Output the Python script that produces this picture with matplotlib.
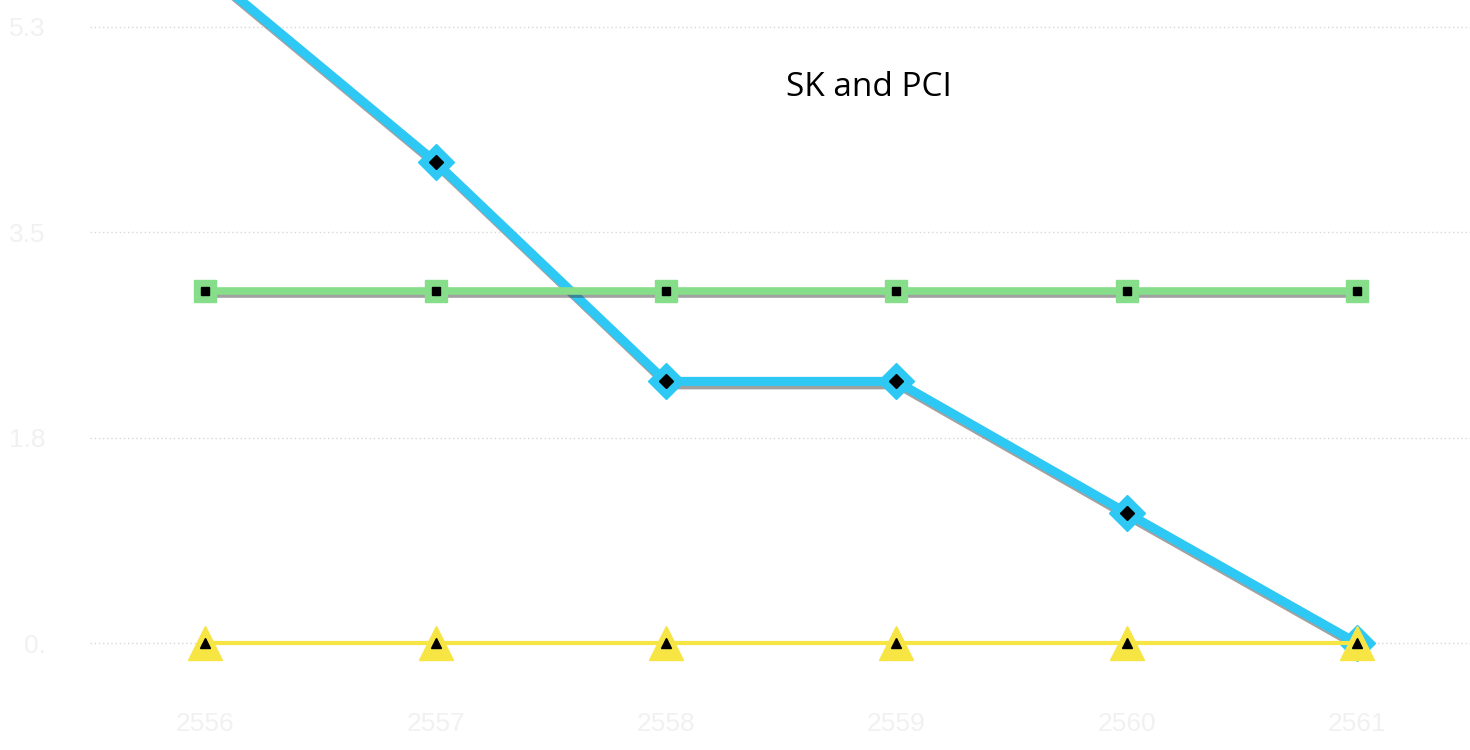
import matplotlib.pyplot as plt
import matplotlib.patheffects as pe
import numpy as np

# ---------------------------------------------------------------
# data
# ---------------------------------------------------------------
years = ['2556', '2557', '2558', '2559', '2560', '2561']
sk_values = [5.73, 4.10, 2.23, 2.23, 1.11, 0.0]      # blue, diamonds
pci_values = [3.0, 3.0, 3.0, 3.0, 3.0, 3.0]          # green, squares
base_values = [0.0, 0.0, 0.0, 0.0, 0.0, 0.0]         # yellow, triangles
y_ticks = [0, 1.75, 3.5, 5.25]
y_tick_labels = ['0.', '1.8', '3.5', '5.3']

BLUE = '#2ec8f4'
GREEN = '#86de8b'
YELLOW = '#f7e544'
TICK_COLOR = '#f1f1f1'
TICK_FONT = 'Liberation Sans'

fig = plt.figure(figsize=(14.7, 7.5), dpi=100)
ax = fig.add_axes([90 / 1470, 1 - 690 / 750, 1382 / 1470, 690 / 750])

x = np.arange(len(years))
shadow = [pe.SimpleLineShadow(offset=(1.5, -2.5), shadow_color='#444444', alpha=0.5), pe.Normal()]

# blue series
ax.plot(x, sk_values, color=BLUE, linewidth=6.5, zorder=2, path_effects=shadow)
ax.plot(x, sk_values, linestyle='None', marker='D', markersize=18,
        markerfacecolor=BLUE, markeredgecolor=BLUE, zorder=3)
ax.plot(x, sk_values, linestyle='None', marker='D', markersize=7,
        markerfacecolor='black', markeredgecolor='black', zorder=3.1)

# green series
ax.plot(x, pci_values, color=GREEN, linewidth=5.5, zorder=4, path_effects=shadow)
ax.plot(x, pci_values, linestyle='None', marker='s', markersize=16,
        markerfacecolor=GREEN, markeredgecolor=GREEN, zorder=5)
ax.plot(x, pci_values, linestyle='None', marker='s', markersize=6,
        markerfacecolor='black', markeredgecolor='black', zorder=5.1)

# yellow series
ax.plot(x, base_values, color=YELLOW, linewidth=3, zorder=6)
ax.plot(x, base_values, linestyle='None', marker='^', markersize=25,
        markerfacecolor=YELLOW, markeredgecolor=YELLOW, zorder=7)
ax.plot(x, base_values, linestyle='None', marker='^', markersize=7,
        markerfacecolor='black', markeredgecolor='black', zorder=7.1)

ax.set_xlim(-0.5, 5.5)
ax.set_ylim(-0.4, 5.48)
ax.set_xticks(x)
ax.set_xticklabels(years, family=TICK_FONT)
ax.set_yticks(y_ticks)
ax.set_yticklabels(y_tick_labels, family=TICK_FONT)
ax.tick_params(axis='both', length=0, labelsize=19, labelcolor=TICK_COLOR)
ax.tick_params(axis='x', pad=16)
ax.tick_params(axis='y', pad=32)

for s in ax.spines.values():
    s.set_visible(False)
ax.grid(axis='y', color='#d8d8d8', linestyle=(0, (1, 2)), linewidth=1)
ax.set_axisbelow(True)

fig.text(869 / 1470, 1 - 87 / 750, 'SK and PCI', fontsize=24, family='Open Sans',
         ha='center', va='center', color='black')

fig.savefig('out.png', dpi=100)
